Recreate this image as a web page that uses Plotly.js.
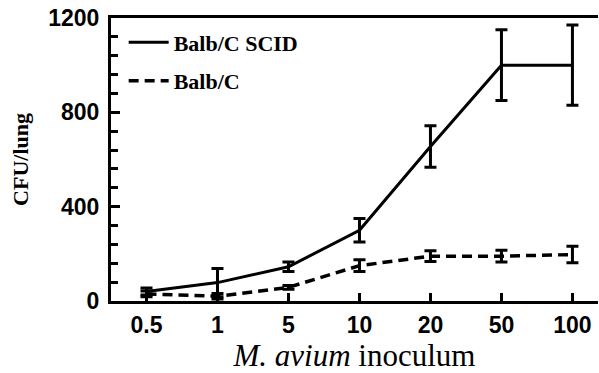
<!DOCTYPE html>
<html>
<head>
<meta charset="utf-8">
<script src="https://cdn.plot.ly/plotly-3.0.1.min.js"></script>
<style>html,body{margin:0;padding:0;background:#fff;}#chart{width:599px;height:373px;}</style>
</head>
<body>
<div id="chart"></div>
<script>
var categories = ["0.5", "1", "5", "10", "20", "50", "100"];
var scidValues = [40, 78, 145, 300, 655, 1000, 1000];
var scidErrors = [15, 60, 20, 50, 88, 150, 170];
var balbValues = [30, 20, 58, 150, 190, 190, 197];
var balbErrors = [12, 12, 8, 25, 23, 25, 35];
var yTicks = [0, 400, 800, 1200];

var traces = [
  {
    x: categories, y: scidValues, type: "scatter", mode: "lines",
    name: "Balb/C SCID", legendgroup: "a",
    line: {color: "#000", width: 3},
    error_y: {type: "data", array: scidErrors, visible: true, color: "#000", thickness: 3, width: 6}
  },
  {
    x: categories, y: balbValues, type: "scatter", mode: "lines",
    name: "Balb/C", legendgroup: "b",
    line: {color: "#000", width: 3.5, dash: "10px,6px"},
    error_y: {type: "data", array: balbErrors, visible: true, color: "#000", thickness: 3, width: 6}
  }
];

var layout = {
  width: 599, height: 373,
  margin: {l: 111, r: 1, t: 18, b: 72},
  paper_bgcolor: "#fff", plot_bgcolor: "#fff",
  showlegend: true,
  legend: {
    x: 0.026, y: 0.988, xanchor: "left", yanchor: "top",
    bgcolor: "rgba(0,0,0,0)",
    font: {family: "Liberation Serif", size: 22, color: "#000", weight: "bold"},
    tracegroupgap: 7, itemwidth: 40
  },
  xaxis: {
    type: "category", categoryorder: "array", categoryarray: categories,
    range: [-0.5, 6.36],
    showline: true, linecolor: "#000", linewidth: 3, mirror: true,
    ticks: "inside", ticklen: 8, tickwidth: 3, tickcolor: "#000",
    showgrid: false, zeroline: false,
    tickfont: {family: "Liberation Sans", size: 23, color: "#000", weight: "bold"},
    ticklabelstandoff: 1,
    title: {text: "<i>M. avium</i> inoculum", font: {family: "Liberation Serif", size: 31, color: "#000"}, standoff: 1}
  },
  yaxis: {
    range: [0, 1200],
    tickmode: "array", tickvals: yTicks, ticktext: yTicks.map(String),
    showline: true, linecolor: "#000", linewidth: 3, mirror: false,
    ticks: "inside", ticklen: 9, tickwidth: 3, tickcolor: "#000",
    minor: {dtick: 80, ticks: "inside", ticklen: 7, tickwidth: 3, tickcolor: "#000", showgrid: false},
    showgrid: false, zeroline: false,
    tickfont: {family: "Liberation Sans", size: 23, color: "#000", weight: "bold"},
    ticklabelstandoff: 4,
    title: {text: "CFU/lung", font: {family: "Liberation Serif", size: 22, color: "#000", weight: "bold"}, standoff: 14}
  }
};

Plotly.newPlot("chart", traces, layout, {displayModeBar: false, staticPlot: true});
</script>
</body>
</html>
